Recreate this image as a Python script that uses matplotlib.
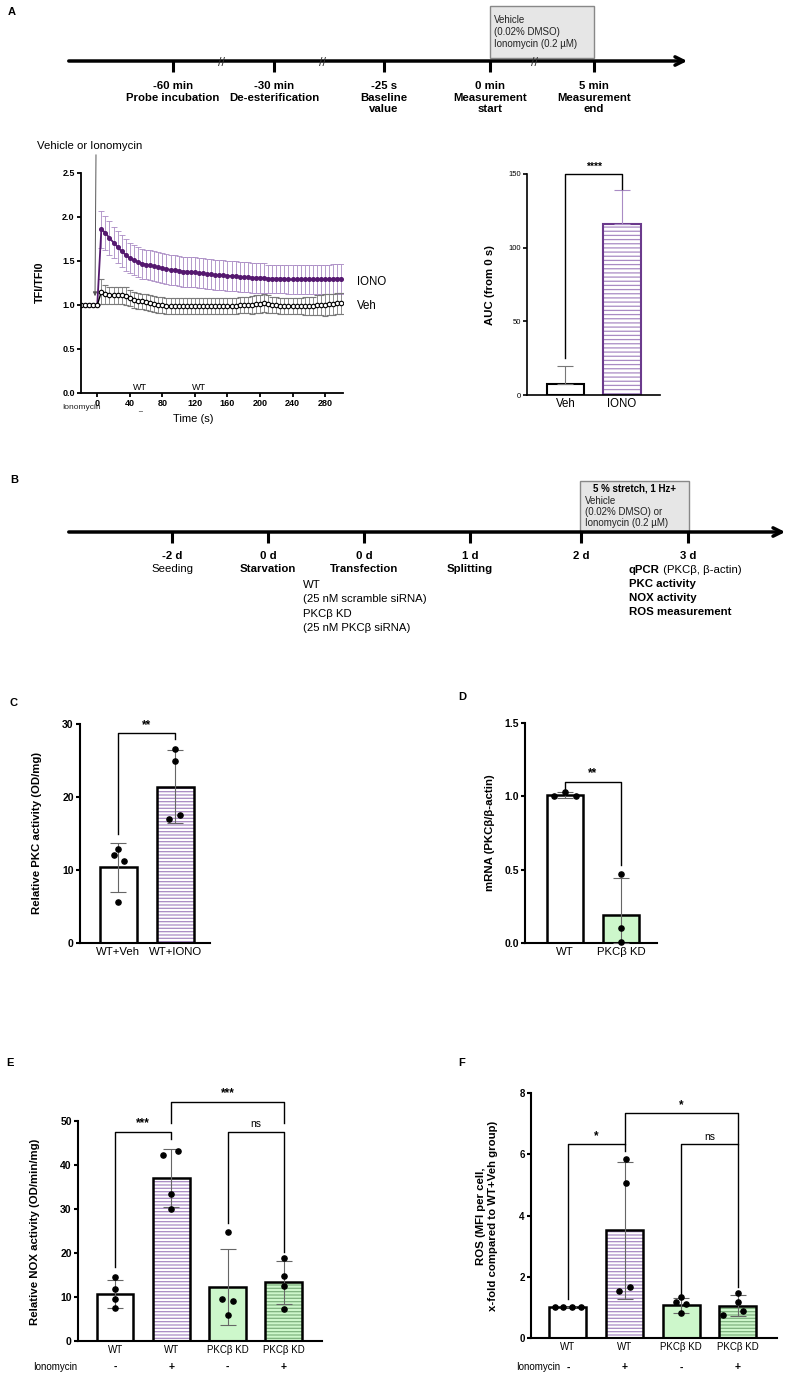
import matplotlib.pyplot as plt
import numpy as np
from matplotlib.patches import Rectangle

plt.rcParams['font.family'] = ['Liberation Sans', 'DejaVu Sans']
plt.rcParams['hatch.linewidth'] = 0.9

W, H = 789, 1375

# ---------------- data ----------------
# A: protocol timeline
a_steps = ['-60 min\nProbe incubation', '-30 min\nDe-esterification', '-25 s\nBaseline\nvalue',
           '0 min\nMeasurement\nstart', '5 min\nMeasurement\nend']
a_box = ['Vehicle', '(0.02% DMSO)', 'Ionomycin (0.2 µM)']

# A: TFI/TFI0 kinetics, every 5 s
t_sec = np.arange(-20, 301, 5)
iono_mean = [1.00, 1.00, 1.00, 1.00, 1.00,
             1.86, 1.82, 1.76, 1.71, 1.66, 1.61, 1.57, 1.53, 1.51, 1.49,
             1.47, 1.46, 1.45, 1.44, 1.43, 1.42, 1.41, 1.40, 1.40, 1.39,
             1.38, 1.38, 1.37, 1.37, 1.36, 1.36, 1.35, 1.35, 1.34, 1.34,
             1.34, 1.33, 1.33, 1.33, 1.32, 1.32, 1.32, 1.31, 1.31, 1.31,
             1.31, 1.30, 1.30, 1.30, 1.30, 1.30, 1.29, 1.29, 1.29, 1.29,
             1.29, 1.29, 1.29, 1.29, 1.29, 1.29, 1.29, 1.30, 1.30, 1.30]
iono_sd = [0.0, 0.0, 0.0, 0.0, 0.0,
           0.21, 0.19, 0.19, 0.18, 0.18, 0.18, 0.18, 0.17, 0.17, 0.17,
           0.17, 0.17, 0.17, 0.17, 0.17, 0.17, 0.17, 0.17, 0.17, 0.17,
           0.17, 0.17, 0.17, 0.17, 0.17, 0.17, 0.17, 0.17, 0.17, 0.17,
           0.17, 0.17, 0.17, 0.17, 0.17, 0.17, 0.17, 0.17, 0.17, 0.17,
           0.17, 0.16, 0.16, 0.16, 0.16, 0.16, 0.16, 0.16, 0.16, 0.16,
           0.16, 0.16, 0.16, 0.16, 0.16, 0.16, 0.17, 0.17, 0.17, 0.17]
veh_mean = [1.00, 1.00, 1.00, 1.00, 1.00,
            1.15, 1.12, 1.11, 1.11, 1.11, 1.11, 1.10, 1.08, 1.06, 1.05,
            1.04, 1.03, 1.02, 1.01, 1.00, 1.00, 0.99, 0.99, 0.99, 0.99,
            0.99, 0.99, 0.99, 0.99, 0.99, 0.99, 0.99, 0.99, 0.99, 0.99,
            0.99, 0.99, 0.99, 0.99, 1.00, 1.00, 1.00, 1.00, 1.01, 1.01,
            1.02, 1.01, 1.00, 1.00, 0.99, 0.99, 0.99, 0.99, 0.99, 0.99,
            0.99, 0.99, 0.99, 1.00, 1.00, 1.00, 1.01, 1.01, 1.02, 1.02]
veh_sd = [0.0, 0.0, 0.0, 0.0, 0.0,
          0.14, 0.11, 0.10, 0.10, 0.10, 0.10, 0.10, 0.09, 0.09, 0.09,
          0.09, 0.09, 0.09, 0.09, 0.09, 0.09, 0.09, 0.09, 0.09, 0.09,
          0.09, 0.09, 0.09, 0.09, 0.09, 0.09, 0.09, 0.09, 0.09, 0.09,
          0.09, 0.09, 0.09, 0.09, 0.09, 0.09, 0.09, 0.10, 0.10, 0.10,
          0.10, 0.10, 0.09, 0.09, 0.09, 0.09, 0.09, 0.09, 0.09, 0.09,
          0.10, 0.10, 0.10, 0.11, 0.11, 0.12, 0.12, 0.12, 0.12, 0.12]

# A: AUC
auc_groups = ['Veh', 'IONO']
auc_mean = [7.5, 116.0]
auc_sd = [12.0, 23.0]

# B: experimental timeline
b_days = ['-2 d', '0 d', '0 d', '1 d', '2 d', '3 d']
b_steps = ['Seeding', 'Starvation', 'Transfection', 'Splitting', '', '']
b_step_bold = [False, True, True, True, False, False]
b_box_title = '5 % stretch, 1 Hz+'
b_box = ['Vehicle', '(0.02% DMSO) or', 'Ionomycin (0.2 µM)']
b_transfect = ['WT', '(25 nM scramble siRNA)', 'PKCβ KD', '(25 nM PKCβ siRNA)']
b_readouts = ['qPCR', 'PKC activity', 'NOX activity', 'ROS measurement']

# C: PKC activity
c_groups = ['WT+Veh', 'WT+IONO']
c_mean = [10.4, 21.4]
c_sd = [3.35, 5.0]
c_pts = [[12.9, 12.0, 11.3, 5.6], [26.6, 25.0, 17.6, 17.0]]
c_jit = [[0.0, -0.08, 0.11, 0.0], [0.0, 0.0, 0.09, -0.1]]

# D: mRNA
d_groups = ['WT', 'PKCβ KD']
d_mean = [1.01, 0.19]
d_sd_lo = [0.02, 0.19]
d_sd_hi = [0.02, 0.25]
d_pts = [[1.0, 1.03, 1.0], [0.47, 0.10, 0.01]]
d_jit = [[-0.2, 0.0, 0.2], [0.0, 0.0, 0.0]]

# E: NOX activity
ef_groups = ['WT', 'WT', 'PKCβ KD', 'PKCβ KD']
iono_signs = ['-', '+', '-', '+']
e_mean = [10.7, 37.0, 12.2, 13.3]
e_sd = [3.2, 6.6, 8.6, 4.8]
e_pts = [[14.5, 11.8, 9.6, 7.6], [42.3, 43.1, 33.4, 29.9],
         [24.7, 9.6, 9.2, 5.8], [18.8, 14.8, 12.6, 7.3]]
e_jit = [[0.0, 0.0, 0.0, 0.0], [-0.14, 0.11, 0.0, 0.0],
         [0.0, -0.1, 0.09, 0.0], [0.0, 0.0, 0.0, 0.0]]

# F: ROS
f_mean = [1.0, 3.52, 1.07, 1.06]
f_sd = [0.0, 2.24, 0.25, 0.33]
f_pts = [[1.0, 1.0, 1.0, 1.0], [5.85, 5.05, 1.68, 1.55],
         [1.33, 1.16, 1.12, 0.81], [1.47, 1.18, 0.89, 0.75]]
f_jit = [[-0.23, -0.09, 0.07, 0.23], [0.02, 0.02, 0.1, -0.09],
         [0.0, -0.09, 0.09, 0.0], [0.0, 0.0, 0.09, -0.26]]

PURPLE = '#55186f'
LAV = '#a98bc4'
GREEN = '#cdf7cb'
GHATCH = '#7fb37f'
LBL = 8.2

fig = plt.figure(figsize=(W / 100.0, H / 100.0), dpi=100)


def px_axes(l, t, r, b):
    ax = fig.add_axes([l / W, 1 - b / H, (r - l) / W, (b - t) / H])
    ax.patch.set_alpha(0)
    return ax


ov = px_axes(0, 0, W, H)
ov.set_xlim(0, W)
ov.set_ylim(H, 0)
ov.axis('off')


def style(ax, lw=1.5, size=7.5, bold=True, xsize=7):
    ax.spines['top'].set_visible(False)
    ax.spines['right'].set_visible(False)
    ax.spines['left'].set_linewidth(lw)
    ax.spines['bottom'].set_linewidth(lw)
    ax.tick_params(axis='y', width=lw, length=3, labelsize=size, pad=1.5)
    ax.tick_params(axis='x', length=0, labelsize=xsize, pad=3)
    if bold:
        for lab in ax.get_yticklabels():
            lab.set_fontweight('bold')


def bracket(ax, x1, x2, y, yl, yr, txt, fs=8.5):
    ax.plot([x1, x1, x2, x2], [yl, y, y, yr], color='black', lw=1, clip_on=False)
    ax.annotate(txt, xy=((x1 + x2) / 2.0, y), xytext=(0, 1.5), textcoords='offset points',
                ha='center', va='bottom', fontsize=fs if txt != 'ns' else 7.5,
                fontweight='bold' if txt != 'ns' else 'normal', annotation_clip=False)


def bar_panel(ax, means, yerr, pts, jit, fills, hatches, hcols):
    x = np.arange(len(means))
    for i in x:
        ax.bar(i, means[i], 0.65, color=fills[i], edgecolor=hcols[i], hatch=hatches[i],
               linewidth=0, zorder=1)
        ax.bar(i, means[i], 0.65, fill=False, edgecolor='black', linewidth=1.8, zorder=2)
    ax.errorbar(x, means, yerr=yerr, fmt='none', ecolor='#666666', elinewidth=0.8,
                capsize=6, capthick=0.8, zorder=3)
    for i in x:
        ax.scatter(np.array(jit[i]) + i, pts[i], s=14, color='black', zorder=4, clip_on=False)


def vlabel(x, y, txt, fs=LBL):
    ov.text(x, y, txt, rotation=90, ha='center', va='center', fontsize=fs,
            fontweight='bold', multialignment='center')


# ---------------- panel letters ----------------
for lx, ly, letter in [(8, 12, 'A'), (10, 480, 'B'), (10, 703, 'C'),
                       (458, 697, 'D'), (6, 1063, 'E'), (458, 1063, 'F')]:
    ov.text(lx, ly, letter, fontsize=8, fontweight='bold', va='center')

# ---------------- A timeline ----------------
ov.add_patch(Rectangle((490, 6), 104, 52, facecolor='#e6e6e6', edgecolor='#888888', lw=1, zorder=0))
for i, s in enumerate(a_box):
    ov.text(494, 20 + 12 * i, s, fontsize=7, va='center', color='#222222')
ov.annotate('', xy=(690, 61), xytext=(66, 61),
            arrowprops=dict(arrowstyle='->', lw=2.5, color='black', mutation_scale=15))
for x, lab in zip([173, 274, 384, 490, 594], a_steps):
    ov.plot([x, x], [61, 72], color='black', lw=2.2, solid_capstyle='butt')
    ov.text(x, 81, lab, ha='center', va='top', fontsize=8.2, fontweight='bold', linespacing=1.2)
for x in [222, 323, 535]:
    ov.text(x, 63, '//', ha='center', va='center', fontsize=9, color='#333333')

# ---------------- A kinetics ----------------
ax1 = px_axes(81, 173, 343, 393)
ax1.errorbar(t_sec, iono_mean, yerr=iono_sd, color=PURPLE, ecolor=LAV, elinewidth=0.6,
             capsize=2, capthick=0.6, marker='o', ms=2.6, lw=1.3)
ax1.errorbar(t_sec, veh_mean, yerr=veh_sd, color='black', ecolor='#7a7a7a', elinewidth=0.6,
             capsize=2, capthick=0.6, marker='o', ms=3.2, mfc='white', mew=0.8, lw=1.0)
ax1.set_xlim(-20, 302)
ax1.set_ylim(0, 2.5)
ax1.set_yticks([0, 0.5, 1.0, 1.5, 2.0, 2.5], ['0.0', '0.5', '1.0', '1.5', '2.0', '2.5'])
ax1.set_xticks(np.arange(0, 281, 40))
style(ax1, lw=1.3, size=6.5)
ax1.tick_params(axis='x', length=3, width=1.3, labelsize=6.5, pad=1.5)
for lab in ax1.get_xticklabels():
    lab.set_fontweight('bold')
ov.text(357, 282, 'IONO', fontsize=8.3, va='center')
ov.text(357, 306, 'Veh', fontsize=8.3, va='center')
vlabel(40, 282, 'TFI/TFI0', fs=7.8)
ov.text(193, 419, 'Time (s)', fontsize=8, ha='center', va='center')
ov.text(101, 407, 'Ionomycin', fontsize=6, ha='right', va='center', color='#222222')
for x in [140, 199]:
    ov.text(x, 387, 'WT', fontsize=6.5, ha='center', va='center')
ov.text(140, 409, '_', fontsize=5, ha='center', va='center')
ov.text(90, 146, 'Vehicle or Ionomycin', fontsize=8.2, ha='center', va='center')
ov.annotate('', xy=(95, 299), xytext=(96, 152),
            arrowprops=dict(arrowstyle='-|>', color='#555555', lw=0.7, mutation_scale=6))

# ---------------- A AUC ----------------
ax2 = px_axes(527, 174, 660, 395)
ax2.bar(0, auc_mean[0], 0.66, color='white', edgecolor='black', linewidth=1.5)
ax2.bar(1, auc_mean[1], 0.66, color='white', edgecolor=LAV, hatch='----', linewidth=0)
ax2.bar(1, auc_mean[1], 0.66, fill=False, edgecolor='#6b3a8c', linewidth=1.5)
ax2.errorbar([0], [auc_mean[0]], yerr=[[0], [auc_sd[0]]], fmt='none', ecolor='#777777',
             elinewidth=0.8, capsize=6, capthick=0.8)
ax2.errorbar([1], [auc_mean[1]], yerr=[[0], [auc_sd[1]]], fmt='none', ecolor=LAV,
             elinewidth=0.8, capsize=6, capthick=0.8)
ax2.set_xlim(-0.68, 1.67)
ax2.set_ylim(0, 150)
ax2.set_yticks([0, 50, 100, 150])
ax2.set_xticks([0, 1], auc_groups)
style(ax2, lw=1.2, size=5.5, bold=False)
ax2.tick_params(axis='x', labelsize=8.3, pad=2)
bracket(ax2, 0, 1, 150, 25, 140, '****', fs=7.5)
vlabel(490, 285, 'AUC (from 0 s)')

# ---------------- B timeline ----------------
ov.add_patch(Rectangle((580, 481), 109, 51, facecolor='#e6e6e6', edgecolor='#888888', lw=1, zorder=0))
ov.text(635, 488, b_box_title, fontsize=7, fontweight='bold', ha='center', va='center')
for i, s in enumerate(b_box):
    ov.text(585, 501 + 11 * i, s, fontsize=7, va='center', color='#222222')
ov.annotate('', xy=(788, 532), xytext=(66, 532),
            arrowprops=dict(arrowstyle='->', lw=2.5, color='black', mutation_scale=15))
for x, d, s, b in zip([172, 268, 364, 470, 581, 688], b_days, b_steps, b_step_bold):
    ov.plot([x, x], [532, 543], color='black', lw=2.2, solid_capstyle='butt')
    ov.text(x, 556, d, fontsize=8.2, fontweight='bold', ha='center', va='center')
    ov.text(x, 569, s, fontsize=8.2, fontweight='bold' if b else 'normal', ha='center', va='center')
for i, s in enumerate(b_transfect):
    ov.text(303, 585 + 14.3 * i, s, fontsize=8.2, va='center')
for i, s in enumerate(b_readouts):
    t = ov.text(629, 570 + 14 * i, s, fontsize=8.2, fontweight='bold', va='center')
    if i == 0:
        ov.annotate(' (PKCβ, β-actin)', xy=(1, 0), xycoords=t, fontsize=8.2, va='bottom')

# ---------------- C ----------------
ax3 = px_axes(80, 724, 210, 943)
bar_panel(ax3, c_mean, c_sd, c_pts, c_jit, ['white', 'white'], [None, '-----'], ['black', LAV])
ax3.set_xlim(-0.667, 1.61)
ax3.set_ylim(0, 30)
ax3.set_yticks([0, 10, 20, 30])
ax3.set_xticks([0, 1], c_groups)
style(ax3, xsize=8.2)
bracket(ax3, 0, 1, 28.8, 15.0, 28.0, '**')
vlabel(37, 833, 'Relative PKC activity (OD/mg)')

# ---------------- D ----------------
ax4 = px_axes(525, 723, 657, 943)
bar_panel(ax4, d_mean, [d_sd_lo, d_sd_hi], d_pts, d_jit, ['white', GREEN], [None, None],
          ['black', 'black'])
ax4.set_xlim(-0.71, 1.64)
ax4.set_ylim(0, 1.5)
ax4.set_yticks([0, 0.5, 1.0, 1.5], ['0.0', '0.5', '1.0', '1.5'])
ax4.set_xticks([0, 1], d_groups)
style(ax4, xsize=8.2)
bracket(ax4, 0, 1, 1.10, 1.05, 0.53, '**')
vlabel(490, 833, 'mRNA (PKCβ/β-actin)')

# ---------------- E ----------------
ef_fills = ['white', 'white', GREEN, GREEN]
ef_hatch = [None, '-----', None, '-----']
ef_hcol = ['black', LAV, 'black', GHATCH]

ax5 = px_axes(78, 1121, 322, 1341)
bar_panel(ax5, e_mean, e_sd, e_pts, e_jit, ef_fills, ef_hatch, ef_hcol)
ax5.set_xlim(-0.66, 3.68)
ax5.set_ylim(0, 50)
ax5.set_yticks([0, 10, 20, 30, 40, 50])
ax5.set_xticks(range(4), ef_groups)
style(ax5)
bracket(ax5, 0, 1, 47.6, 16.8, 45.9, '***')
bracket(ax5, 1, 3, 54.4, 49.5, 49.5, '***')
bracket(ax5, 2, 3, 47.6, 26.8, 20.2, 'ns')
vlabel(35, 1232, 'Relative NOX activity (OD/min/mg)')
tr5 = ax5.get_xaxis_transform()
ax5.text(-1.07, -0.118, 'Ionomycin', transform=tr5, fontsize=7, ha='center', va='center')
for i, s in enumerate(iono_signs):
    ax5.text(i, -0.118, s, transform=tr5, fontsize=7.5, fontweight='bold', ha='center', va='center')

# ---------------- F ----------------
ax6 = px_axes(531, 1093, 777, 1338)
bar_panel(ax6, f_mean, f_sd, f_pts, f_jit, ef_fills, ef_hatch, ef_hcol)
ax6.set_xlim(-0.65, 3.69)
ax6.set_ylim(0, 8)
ax6.set_yticks([0, 2, 4, 6, 8])
ax6.set_xticks(range(4), ef_groups)
style(ax6, size=7)
bracket(ax6, 0, 1, 6.34, 1.27, 6.1, '*')
bracket(ax6, 1, 3, 7.35, 6.34, 6.34, '*')
bracket(ax6, 2, 3, 6.34, 1.36, 1.66, 'ns')
vlabel(487, 1216, 'ROS (MFI per cell,\nx-fold compared to WT+Veh group)')
tr6 = ax6.get_xaxis_transform()
ax6.text(-0.52, -0.12, 'Ionomycin', transform=tr6, fontsize=7, ha='center', va='center')
for i, s in enumerate(iono_signs):
    ax6.text(i, -0.12, s, transform=tr6, fontsize=7.5, fontweight='bold', ha='center', va='center')

fig.savefig('out.png', dpi=100)
